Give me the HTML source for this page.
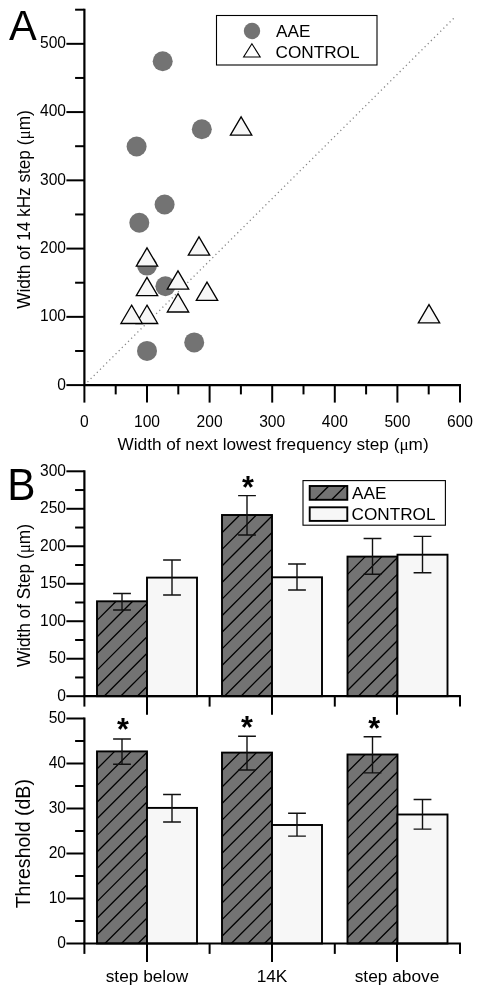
<!DOCTYPE html><html><head><meta charset="utf-8"><style>html,body{margin:0;padding:0;background:#fff}svg{display:block;filter:grayscale(1)}text{font-family:"Liberation Sans",sans-serif;fill:#000}</style></head><body>
<svg width="481" height="994" viewBox="0 0 481 994">
<rect width="481" height="994" fill="#fff"/>
<line x1="84.4" y1="385.1" x2="455" y2="17" stroke="#858585" stroke-width="1.3" stroke-dasharray="1.2 3.2"/>
<path d="M84.4 8.70 V385.1 H461.0" fill="none" stroke="#000" stroke-width="2.2"/>
<line x1="66.4" y1="385.10" x2="84.4" y2="385.10" stroke="#000" stroke-width="2.0"/>
<text x="66.0" y="389.50" font-size="15.6" text-anchor="end">0</text>
<line x1="75.10000000000001" y1="350.97" x2="84.4" y2="350.97" stroke="#000" stroke-width="2.0"/>
<line x1="66.4" y1="316.85" x2="84.4" y2="316.85" stroke="#000" stroke-width="2.0"/>
<text x="66.0" y="321.25" font-size="15.6" text-anchor="end">100</text>
<line x1="75.10000000000001" y1="282.72" x2="84.4" y2="282.72" stroke="#000" stroke-width="2.0"/>
<line x1="66.4" y1="248.59" x2="84.4" y2="248.59" stroke="#000" stroke-width="2.0"/>
<text x="66.0" y="252.99" font-size="15.6" text-anchor="end">200</text>
<line x1="75.10000000000001" y1="214.46" x2="84.4" y2="214.46" stroke="#000" stroke-width="2.0"/>
<line x1="66.4" y1="180.34" x2="84.4" y2="180.34" stroke="#000" stroke-width="2.0"/>
<text x="66.0" y="184.74" font-size="15.6" text-anchor="end">300</text>
<line x1="75.10000000000001" y1="146.21" x2="84.4" y2="146.21" stroke="#000" stroke-width="2.0"/>
<line x1="66.4" y1="112.08" x2="84.4" y2="112.08" stroke="#000" stroke-width="2.0"/>
<text x="66.0" y="116.48" font-size="15.6" text-anchor="end">400</text>
<line x1="75.10000000000001" y1="77.95" x2="84.4" y2="77.95" stroke="#000" stroke-width="2.0"/>
<line x1="66.4" y1="43.83" x2="84.4" y2="43.83" stroke="#000" stroke-width="2.0"/>
<text x="66.0" y="48.23" font-size="15.6" text-anchor="end">500</text>
<line x1="75.10000000000001" y1="9.70" x2="84.4" y2="9.70" stroke="#000" stroke-width="2.0"/>
<line x1="84.40" y1="385.1" x2="84.40" y2="402.6" stroke="#000" stroke-width="2.0"/>
<text x="84.40" y="426.6" font-size="15.6" text-anchor="middle">0</text>
<line x1="115.70" y1="385.1" x2="115.70" y2="394.40000000000003" stroke="#000" stroke-width="2.0"/>
<line x1="147.00" y1="385.1" x2="147.00" y2="402.6" stroke="#000" stroke-width="2.0"/>
<text x="147.00" y="426.6" font-size="15.6" text-anchor="middle">100</text>
<line x1="178.30" y1="385.1" x2="178.30" y2="394.40000000000003" stroke="#000" stroke-width="2.0"/>
<line x1="209.60" y1="385.1" x2="209.60" y2="402.6" stroke="#000" stroke-width="2.0"/>
<text x="209.60" y="426.6" font-size="15.6" text-anchor="middle">200</text>
<line x1="240.90" y1="385.1" x2="240.90" y2="394.40000000000003" stroke="#000" stroke-width="2.0"/>
<line x1="272.20" y1="385.1" x2="272.20" y2="402.6" stroke="#000" stroke-width="2.0"/>
<text x="272.20" y="426.6" font-size="15.6" text-anchor="middle">300</text>
<line x1="303.50" y1="385.1" x2="303.50" y2="394.40000000000003" stroke="#000" stroke-width="2.0"/>
<line x1="334.80" y1="385.1" x2="334.80" y2="402.6" stroke="#000" stroke-width="2.0"/>
<text x="334.80" y="426.6" font-size="15.6" text-anchor="middle">400</text>
<line x1="366.10" y1="385.1" x2="366.10" y2="394.40000000000003" stroke="#000" stroke-width="2.0"/>
<line x1="397.40" y1="385.1" x2="397.40" y2="402.6" stroke="#000" stroke-width="2.0"/>
<text x="397.40" y="426.6" font-size="15.6" text-anchor="middle">500</text>
<line x1="428.70" y1="385.1" x2="428.70" y2="394.40000000000003" stroke="#000" stroke-width="2.0"/>
<line x1="460.00" y1="385.1" x2="460.00" y2="402.6" stroke="#000" stroke-width="2.0"/>
<text x="460.00" y="426.6" font-size="15.6" text-anchor="middle">600</text>
<circle cx="162.7" cy="61.2" r="10" fill="#737373"/>
<circle cx="201.8" cy="129.2" r="10" fill="#737373"/>
<circle cx="136.6" cy="146.5" r="10" fill="#737373"/>
<circle cx="164.6" cy="204.5" r="10" fill="#737373"/>
<circle cx="139.3" cy="222.7" r="10" fill="#737373"/>
<circle cx="147.0" cy="265.6" r="10" fill="#737373"/>
<circle cx="165.4" cy="286.3" r="10" fill="#737373"/>
<circle cx="194.2" cy="342.4" r="10" fill="#737373"/>
<circle cx="147.0" cy="350.9" r="10" fill="#737373"/>
<path d="M241.1 116.9 L251.79999999999998 135.2 H230.4 Z" fill="#f7f7f7" stroke="#000" stroke-width="1.3" stroke-linejoin="miter"/>
<path d="M199 236.9 L209.7 255.2 H188.3 Z" fill="#f7f7f7" stroke="#000" stroke-width="1.3" stroke-linejoin="miter"/>
<path d="M147 247.9 L157.7 266.2 H136.3 Z" fill="#f7f7f7" stroke="#000" stroke-width="1.3" stroke-linejoin="miter"/>
<path d="M147 277.4 L157.7 295.7 H136.3 Z" fill="#f7f7f7" stroke="#000" stroke-width="1.3" stroke-linejoin="miter"/>
<path d="M178 270.9 L188.7 289.2 H167.3 Z" fill="#f7f7f7" stroke="#000" stroke-width="1.3" stroke-linejoin="miter"/>
<path d="M178 293.7 L188.7 312.0 H167.3 Z" fill="#f7f7f7" stroke="#000" stroke-width="1.3" stroke-linejoin="miter"/>
<path d="M207 282.1 L217.7 300.4 H196.3 Z" fill="#f7f7f7" stroke="#000" stroke-width="1.3" stroke-linejoin="miter"/>
<path d="M147 305.2 L157.7 323.5 H136.3 Z" fill="#f7f7f7" stroke="#000" stroke-width="1.3" stroke-linejoin="miter"/>
<path d="M131.6 305.2 L142.29999999999998 323.5 H120.89999999999999 Z" fill="#f7f7f7" stroke="#000" stroke-width="1.3" stroke-linejoin="miter"/>
<path d="M429 304.6 L439.7 322.9 H418.3 Z" fill="#f7f7f7" stroke="#000" stroke-width="1.3" stroke-linejoin="miter"/>
<rect x="216.5" y="15.5" width="160.5" height="49.5" fill="#fff" stroke="#000" stroke-width="1.1"/>
<circle cx="252" cy="31" r="8.2" fill="#737373"/>
<path d="M251.9 43.8 L260.2 57 H243.6 Z" fill="#fff" stroke="#000" stroke-width="1.1"/>
<text x="276" y="36.8" font-size="17.2">AAE</text>
<text x="275.5" y="58" font-size="17.2">CONTROL</text>
<text transform="translate(9.1,40.2) scale(0.977,1)" font-size="42.6">A</text>
<text transform="translate(29.6,209.5) rotate(-90) scale(1,1.06)" font-size="17.2" text-anchor="middle">Width of 14 kHz step (<tspan font-family="Liberation Serif">μ</tspan>m)</text>
<text x="273.1" y="450.1" font-size="17.2" text-anchor="middle">Width of next lowest frequency step (<tspan font-family="Liberation Serif">μ</tspan>m)</text>
<rect x="97" y="601.30" width="50" height="94.90" fill="#737373"/>
<path d="M97.00 620.40L116.10 601.30M97.00 636.98L132.68 601.30M97.00 653.56L147.00 603.56M97.00 670.14L147.00 620.14M97.00 686.72L147.00 636.72M104.10 696.20L147.00 653.30M120.68 696.20L147.00 669.88M137.26 696.20L147.00 686.46" fill="none" stroke="#000" stroke-width="1.3"/>
<rect x="97" y="601.30" width="50" height="94.90" fill="none" stroke="#000" stroke-width="1.9"/>
<rect x="147" y="577.60" width="50" height="118.60" fill="#f7f7f7"/>
<rect x="147" y="577.60" width="50" height="118.60" fill="none" stroke="#000" stroke-width="1.9"/>
<rect x="222" y="515.00" width="50" height="181.20" fill="#737373"/>
<path d="M222.00 532.80L239.80 515.00M222.00 549.38L256.38 515.00M222.00 565.96L272.00 515.96M222.00 582.54L272.00 532.54M222.00 599.12L272.00 549.12M222.00 615.70L272.00 565.70M222.00 632.28L272.00 582.28M222.00 648.86L272.00 598.86M222.00 665.44L272.00 615.44M222.00 682.02L272.00 632.02M224.40 696.20L272.00 648.60M240.98 696.20L272.00 665.18M257.56 696.20L272.00 681.76" fill="none" stroke="#000" stroke-width="1.3"/>
<rect x="222" y="515.00" width="50" height="181.20" fill="none" stroke="#000" stroke-width="1.9"/>
<rect x="272" y="577.30" width="50" height="118.90" fill="#f7f7f7"/>
<rect x="272" y="577.30" width="50" height="118.90" fill="none" stroke="#000" stroke-width="1.9"/>
<rect x="347.5" y="556.60" width="50" height="139.60" fill="#737373"/>
<path d="M347.50 574.36L365.26 556.60M347.50 590.94L381.84 556.60M347.50 607.52L397.50 557.52M347.50 624.10L397.50 574.10M347.50 640.68L397.50 590.68M347.50 657.26L397.50 607.26M347.50 673.84L397.50 623.84M347.50 690.42L397.50 640.42M358.30 696.20L397.50 657.00M374.88 696.20L397.50 673.58M391.46 696.20L397.50 690.16" fill="none" stroke="#000" stroke-width="1.3"/>
<rect x="347.5" y="556.60" width="50" height="139.60" fill="none" stroke="#000" stroke-width="1.9"/>
<rect x="397.5" y="554.70" width="50" height="141.50" fill="#f7f7f7"/>
<rect x="397.5" y="554.70" width="50" height="141.50" fill="none" stroke="#000" stroke-width="1.9"/>
<path d="M113.1 593.5 H130.9 M113.1 610 H130.9 M122 593.5 V610" fill="none" stroke="#111" stroke-width="1.4"/>
<path d="M163.1 560 H180.9 M163.1 595 H180.9 M172 560 V595" fill="none" stroke="#111" stroke-width="1.4"/>
<path d="M238.1 495.6 H255.9 M238.1 535 H255.9 M247 495.6 V535" fill="none" stroke="#111" stroke-width="1.4"/>
<path d="M288.1 564 H305.9 M288.1 590 H305.9 M297 564 V590" fill="none" stroke="#111" stroke-width="1.4"/>
<path d="M363.6 538.5 H381.4 M363.6 574.3 H381.4 M372.5 538.5 V574.3" fill="none" stroke="#111" stroke-width="1.4"/>
<path d="M413.6 536.4 H431.4 M413.6 572.8 H431.4 M422.5 536.4 V572.8" fill="none" stroke="#111" stroke-width="1.4"/>
<line x1="83.4" y1="696.2" x2="460.9" y2="696.2" stroke="#000" stroke-width="2.2"/>
<line x1="84.4" y1="696.2" x2="84.4" y2="706.6" stroke="#000" stroke-width="2.0"/>
<line x1="209.6" y1="696.2" x2="209.6" y2="706.6" stroke="#000" stroke-width="2.0"/>
<line x1="334.8" y1="696.2" x2="334.8" y2="706.6" stroke="#000" stroke-width="2.0"/>
<line x1="460" y1="696.2" x2="460" y2="706.6" stroke="#000" stroke-width="2.0"/>
<line x1="147" y1="696.2" x2="147" y2="714.8000000000001" stroke="#000" stroke-width="2.0"/>
<line x1="272" y1="696.2" x2="272" y2="714.8000000000001" stroke="#000" stroke-width="2.0"/>
<line x1="397" y1="696.2" x2="397" y2="714.8000000000001" stroke="#000" stroke-width="2.0"/>
<line x1="84.4" y1="470.30" x2="84.4" y2="696.2" stroke="#000" stroke-width="2.2"/>
<line x1="66.4" y1="696.20" x2="84.4" y2="696.20" stroke="#000" stroke-width="2.0"/>
<text x="66.0" y="700.60" font-size="15.6" text-anchor="end">0</text>
<line x1="75.10000000000001" y1="677.46" x2="84.4" y2="677.46" stroke="#000" stroke-width="2.0"/>
<line x1="66.4" y1="658.72" x2="84.4" y2="658.72" stroke="#000" stroke-width="2.0"/>
<text x="66.0" y="663.12" font-size="15.6" text-anchor="end">50</text>
<line x1="75.10000000000001" y1="639.98" x2="84.4" y2="639.98" stroke="#000" stroke-width="2.0"/>
<line x1="66.4" y1="621.23" x2="84.4" y2="621.23" stroke="#000" stroke-width="2.0"/>
<text x="66.0" y="625.63" font-size="15.6" text-anchor="end">100</text>
<line x1="75.10000000000001" y1="602.49" x2="84.4" y2="602.49" stroke="#000" stroke-width="2.0"/>
<line x1="66.4" y1="583.75" x2="84.4" y2="583.75" stroke="#000" stroke-width="2.0"/>
<text x="66.0" y="588.15" font-size="15.6" text-anchor="end">150</text>
<line x1="75.10000000000001" y1="565.01" x2="84.4" y2="565.01" stroke="#000" stroke-width="2.0"/>
<line x1="66.4" y1="546.27" x2="84.4" y2="546.27" stroke="#000" stroke-width="2.0"/>
<text x="66.0" y="550.67" font-size="15.6" text-anchor="end">200</text>
<line x1="75.10000000000001" y1="527.53" x2="84.4" y2="527.53" stroke="#000" stroke-width="2.0"/>
<line x1="66.4" y1="508.78" x2="84.4" y2="508.78" stroke="#000" stroke-width="2.0"/>
<text x="66.0" y="513.18" font-size="15.6" text-anchor="end">250</text>
<line x1="75.10000000000001" y1="490.04" x2="84.4" y2="490.04" stroke="#000" stroke-width="2.0"/>
<line x1="66.4" y1="471.30" x2="84.4" y2="471.30" stroke="#000" stroke-width="2.0"/>
<text x="66.0" y="475.70" font-size="15.6" text-anchor="end">300</text>
<rect x="303" y="480.6" width="142.4" height="44.6" fill="#fff" stroke="#000" stroke-width="1.1"/>
<rect x="309.7" y="486" width="37.6" height="13.8" fill="#737373"/>
<path d="M315.00 499.80L328.80 486.00M331.58 499.80L345.38 486.00" fill="none" stroke="#000" stroke-width="1.3"/>
<rect x="309.7" y="486" width="37.6" height="13.8" fill="none" stroke="#000" stroke-width="1.9"/>
<rect x="309.7" y="507.3" width="37.6" height="13.6" fill="#f7f7f7" stroke="#000" stroke-width="1.9"/>
<text x="352" y="499.2" font-size="17.2">AAE</text>
<text x="351.5" y="519.8" font-size="17.2">CONTROL</text>
<text transform="translate(7.3,499.6) scale(0.97,1)" font-size="43.6">B</text>
<text transform="translate(29.6,595.6) rotate(-90) scale(1,1.06)" font-size="17.2" text-anchor="middle">Width of Step (<tspan font-family="Liberation Serif">μ</tspan>m)</text>
<text x="247.9" y="498.3" font-size="30.5" font-weight="bold" text-anchor="middle">*</text>
<rect x="97" y="751.40" width="50" height="192.10" fill="#737373"/>
<path d="M97.00 769.02L114.62 751.40M97.00 785.60L131.20 751.40M97.00 802.18L147.00 752.18M97.00 818.76L147.00 768.76M97.00 835.34L147.00 785.34M97.00 851.92L147.00 801.92M97.00 868.50L147.00 818.50M97.00 885.08L147.00 835.08M97.00 901.66L147.00 851.66M97.00 918.24L147.00 868.24M97.00 934.82L147.00 884.82M104.90 943.50L147.00 901.40M121.48 943.50L147.00 917.98M138.06 943.50L147.00 934.56" fill="none" stroke="#000" stroke-width="1.3"/>
<rect x="97" y="751.40" width="50" height="192.10" fill="none" stroke="#000" stroke-width="1.9"/>
<rect x="147" y="807.90" width="50" height="135.60" fill="#f7f7f7"/>
<rect x="147" y="807.90" width="50" height="135.60" fill="none" stroke="#000" stroke-width="1.9"/>
<rect x="222" y="752.60" width="50" height="190.90" fill="#737373"/>
<path d="M222.00 770.42L239.82 752.60M222.00 787.00L256.40 752.60M222.00 803.58L272.00 753.58M222.00 820.16L272.00 770.16M222.00 836.74L272.00 786.74M222.00 853.32L272.00 803.32M222.00 869.90L272.00 819.90M222.00 886.48L272.00 836.48M222.00 903.06L272.00 853.06M222.00 919.64L272.00 869.64M222.00 936.22L272.00 886.22M231.30 943.50L272.00 902.80M247.88 943.50L272.00 919.38M264.46 943.50L272.00 935.96" fill="none" stroke="#000" stroke-width="1.3"/>
<rect x="222" y="752.60" width="50" height="190.90" fill="none" stroke="#000" stroke-width="1.9"/>
<rect x="272" y="825.00" width="50" height="118.50" fill="#f7f7f7"/>
<rect x="272" y="825.00" width="50" height="118.50" fill="none" stroke="#000" stroke-width="1.9"/>
<rect x="347.5" y="754.50" width="50" height="189.00" fill="#737373"/>
<path d="M347.50 772.02L365.02 754.50M347.50 788.60L381.60 754.50M347.50 805.18L397.50 755.18M347.50 821.76L397.50 771.76M347.50 838.34L397.50 788.34M347.50 854.92L397.50 804.92M347.50 871.50L397.50 821.50M347.50 888.08L397.50 838.08M347.50 904.66L397.50 854.66M347.50 921.24L397.50 871.24M347.50 937.82L397.50 887.82M358.40 943.50L397.50 904.40M374.98 943.50L397.50 920.98M391.56 943.50L397.50 937.56" fill="none" stroke="#000" stroke-width="1.3"/>
<rect x="347.5" y="754.50" width="50" height="189.00" fill="none" stroke="#000" stroke-width="1.9"/>
<rect x="397.5" y="814.50" width="50" height="129.00" fill="#f7f7f7"/>
<rect x="397.5" y="814.50" width="50" height="129.00" fill="none" stroke="#000" stroke-width="1.9"/>
<path d="M113.1 739 H130.9 M113.1 764.3 H130.9 M122 739 V764.3" fill="none" stroke="#111" stroke-width="1.4"/>
<path d="M163.1 794.5 H180.9 M163.1 822 H180.9 M172 794.5 V822" fill="none" stroke="#111" stroke-width="1.4"/>
<path d="M238.1 736.3 H255.9 M238.1 770 H255.9 M247 736.3 V770" fill="none" stroke="#111" stroke-width="1.4"/>
<path d="M288.1 813.3 H305.9 M288.1 836.1 H305.9 M297 813.3 V836.1" fill="none" stroke="#111" stroke-width="1.4"/>
<path d="M363.6 736.8 H381.4 M363.6 772.9 H381.4 M372.5 736.8 V772.9" fill="none" stroke="#111" stroke-width="1.4"/>
<path d="M413.6 799.5 H431.4 M413.6 829.1 H431.4 M422.5 799.5 V829.1" fill="none" stroke="#111" stroke-width="1.4"/>
<line x1="83.4" y1="943.5" x2="460.9" y2="943.5" stroke="#000" stroke-width="2.2"/>
<line x1="84.4" y1="943.5" x2="84.4" y2="953.9" stroke="#000" stroke-width="2.0"/>
<line x1="209.6" y1="943.5" x2="209.6" y2="953.9" stroke="#000" stroke-width="2.0"/>
<line x1="334.8" y1="943.5" x2="334.8" y2="953.9" stroke="#000" stroke-width="2.0"/>
<line x1="460" y1="943.5" x2="460" y2="953.9" stroke="#000" stroke-width="2.0"/>
<line x1="147" y1="943.5" x2="147" y2="962.1" stroke="#000" stroke-width="2.0"/>
<line x1="272" y1="943.5" x2="272" y2="962.1" stroke="#000" stroke-width="2.0"/>
<line x1="397" y1="943.5" x2="397" y2="962.1" stroke="#000" stroke-width="2.0"/>
<line x1="84.4" y1="717.50" x2="84.4" y2="943.5" stroke="#000" stroke-width="2.2"/>
<line x1="66.4" y1="943.50" x2="84.4" y2="943.50" stroke="#000" stroke-width="2.0"/>
<text x="66.0" y="947.90" font-size="15.6" text-anchor="end">0</text>
<line x1="75.10000000000001" y1="921.00" x2="84.4" y2="921.00" stroke="#000" stroke-width="2.0"/>
<line x1="66.4" y1="898.50" x2="84.4" y2="898.50" stroke="#000" stroke-width="2.0"/>
<text x="66.0" y="902.90" font-size="15.6" text-anchor="end">10</text>
<line x1="75.10000000000001" y1="876.00" x2="84.4" y2="876.00" stroke="#000" stroke-width="2.0"/>
<line x1="66.4" y1="853.50" x2="84.4" y2="853.50" stroke="#000" stroke-width="2.0"/>
<text x="66.0" y="857.90" font-size="15.6" text-anchor="end">20</text>
<line x1="75.10000000000001" y1="831.00" x2="84.4" y2="831.00" stroke="#000" stroke-width="2.0"/>
<line x1="66.4" y1="808.50" x2="84.4" y2="808.50" stroke="#000" stroke-width="2.0"/>
<text x="66.0" y="812.90" font-size="15.6" text-anchor="end">30</text>
<line x1="75.10000000000001" y1="786.00" x2="84.4" y2="786.00" stroke="#000" stroke-width="2.0"/>
<line x1="66.4" y1="763.50" x2="84.4" y2="763.50" stroke="#000" stroke-width="2.0"/>
<text x="66.0" y="767.90" font-size="15.6" text-anchor="end">40</text>
<line x1="75.10000000000001" y1="741.00" x2="84.4" y2="741.00" stroke="#000" stroke-width="2.0"/>
<line x1="66.4" y1="718.50" x2="84.4" y2="718.50" stroke="#000" stroke-width="2.0"/>
<text x="66.0" y="722.90" font-size="15.6" text-anchor="end">50</text>
<text x="123" y="740.1" font-size="30.5" font-weight="bold" text-anchor="middle">*</text>
<text x="246.9" y="737.9" font-size="30.5" font-weight="bold" text-anchor="middle">*</text>
<text x="374.1" y="738.7" font-size="30.5" font-weight="bold" text-anchor="middle">*</text>
<text transform="translate(30,843.7) rotate(-90) scale(1,1.02)" font-size="19.55" text-anchor="middle">Threshold (dB)</text>
<text x="147" y="981.5" font-size="17.3" text-anchor="middle">step below</text>
<text x="272" y="981.5" font-size="17.3" text-anchor="middle">14K</text>
<text x="397" y="981.5" font-size="17.3" text-anchor="middle">step above</text>
</svg></body></html>
